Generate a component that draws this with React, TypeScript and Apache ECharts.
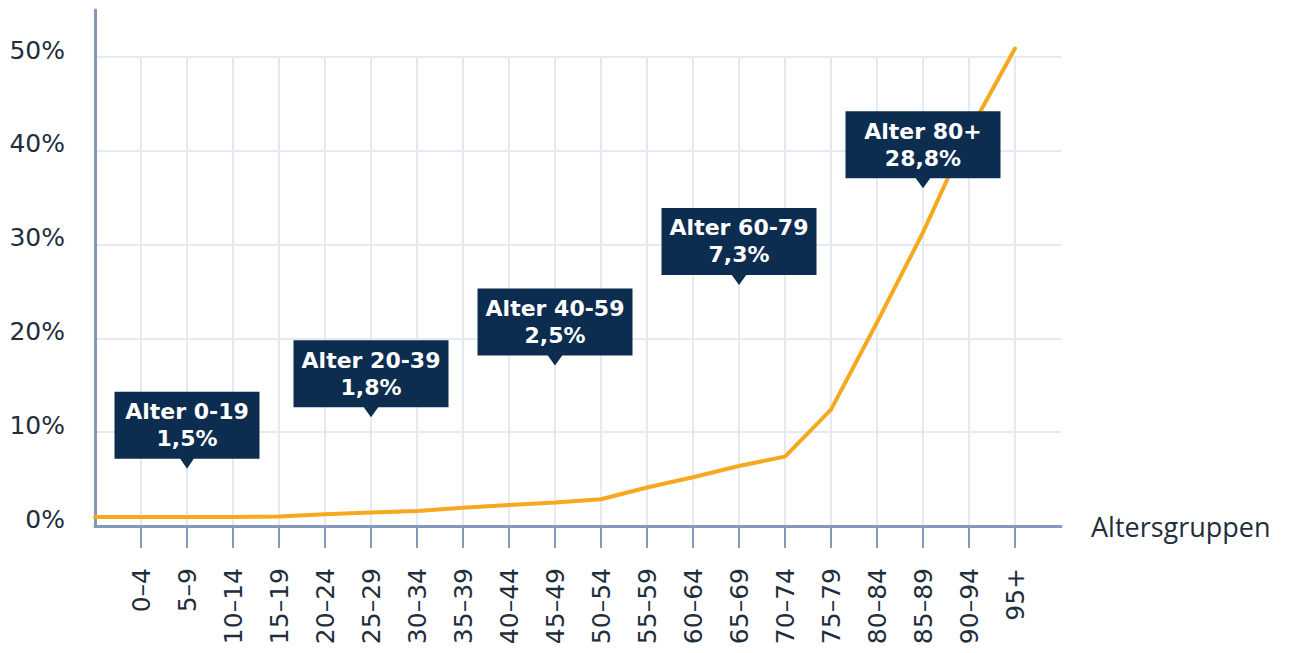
import React, { useEffect, useRef } from "react";
import * as echarts from "echarts";

const categories = ["", "0–4", "5–9", "10–14", "15–19", "20–24", "25–29", "30–34", "35–39", "40–44", "45–49", "50–54", "55–59", "60–64", "65–69", "70–74", "75–79", "80–84", "85–89", "90–94", "95+", ""];
const shareValues = [0.95, 0.95, 0.95, 0.95, 1.0, 1.25, 1.45, 1.6, 1.95, 2.25, 2.5, 2.85, 4.1, 5.2, 6.4, 7.4, 12.4, 21.7, 31.3, 42.0, 50.9, null];

const yTicks = { min: 0, max: 50, interval: 10 };

const annoGroups = ["0-19", "20-39", "40-59", "60-79", "80+"];
const annoShares = [1.5, 1.8, 2.5, 7.3, 28.8];
const annoCategory = ["5–9", "25–29", "45–49", "65–69", "85–89"];
const annoAnchorY = [6.1, 11.6, 17.1, 25.7, 36.0];

const AXIS = "#8297b9";
const GRID = "#e5eaf2";
const TEXT = "#1f2e3d";
const NAVY = "#0c2d50";
const ORANGE = "#f6a81f";
const FONT = "DejaVu Sans";

export default function App() {
  const ref = useRef<HTMLDivElement>(null);
  useEffect(() => {
    if (!ref.current) return;
    const chart = echarts.init(ref.current, undefined, { renderer: "svg" });
    const fmt = (v: number) => v.toFixed(1).replace(".", ",") + "%";
    const annoData = annoGroups.map((g, i) => ({
      value: [annoCategory[i], annoAnchorY[i]],
      label: { formatter: `{a|Alter ${g}}\n{a|${fmt(annoShares[i])}}` },
    }));
    chart.setOption({
      animation: false,
      backgroundColor: "#ffffff",
      grid: [
        { left: 95, right: 232, top: 57, bottom: 127 },
        { left: 95, right: 232, top: 10, height: 47 },
      ],
      xAxis: [
        {
          type: "category",
          gridIndex: 0,
          data: categories,
          boundaryGap: false,
          name: "Altersgruppen",
          nameLocation: "end",
          nameGap: 30,
          nameTextStyle: { fontFamily: "Open Sans", fontSize: 27, color: TEXT, align: "left", verticalAlign: "middle" },
          axisLine: { show: true, lineStyle: { color: AXIS, width: 3 } },
          axisTick: {
            show: true,
            length: 22,
            lineStyle: { color: AXIS, width: 2 },
            interval: (i: number, v: string) => v !== "",
          },
          axisLabel: {
            rotate: 90,
            margin: 42,
            fontFamily: FONT,
            fontSize: 25,
            color: TEXT,
            interval: 0,
          },
          splitLine: {
            show: true,
            lineStyle: { color: GRID, width: 2 },
            interval: (i: number, v: string) => v !== "",
          },
        },
        { type: "category", gridIndex: 1, show: false, data: categories, boundaryGap: false },
      ],
      yAxis: [
        {
          type: "value",
          gridIndex: 0,
          min: yTicks.min,
          max: yTicks.max,
          interval: yTicks.interval,
          axisLine: { show: true, onZero: false, lineStyle: { color: AXIS, width: 3 } },
          axisTick: { show: false },
          axisLabel: {
            formatter: "{value}%",
            fontFamily: FONT,
            fontSize: 25,
            color: TEXT,
            margin: 30,
            verticalAlign: "bottom",
            lineHeight: 14,
          },
          splitLine: { show: true, lineStyle: { color: GRID, width: 2 } },
        },
        {
          type: "value",
          gridIndex: 1,
          min: 0,
          max: 1,
          axisLine: { show: true, onZero: false, lineStyle: { color: AXIS, width: 3 } },
          axisTick: { show: false },
          axisLabel: { show: false },
          splitLine: { show: false },
        },
      ],
      series: [
        {
          type: "line",
          xAxisIndex: 0,
          yAxisIndex: 0,
          data: shareValues,
          showSymbol: false,
          symbol: "none",
          clip: false,
          lineStyle: { color: ORANGE, width: 4, cap: "round" },
          z: 3,
        },
        {
          type: "scatter",
          xAxisIndex: 0,
          yAxisIndex: 0,
          data: annoData,
          symbol: "path://M0 0H150V67H82L75 77L68 67H0Z",
          symbolSize: (_v: any, p: any) => [p.dataIndex === 0 ? 145 : 155, 77],
          symbolOffset: [0, "-50%"],
          itemStyle: { color: NAVY, opacity: 1 },
          label: {
            show: true,
            position: "inside",
            offset: [0, -5],
            rich: {
              a: { fontFamily: FONT, fontSize: 22, fontWeight: "bold", lineHeight: 27, color: "#ffffff", align: "center" },
            },
          },
          emphasis: { disabled: true },
          z: 5,
        },
      ],
    });
    return () => chart.dispose();
  }, []);
  return <div ref={ref} style={{ position: "absolute", left: 0, top: 0, width: 1293, height: 653 }} />;
}
